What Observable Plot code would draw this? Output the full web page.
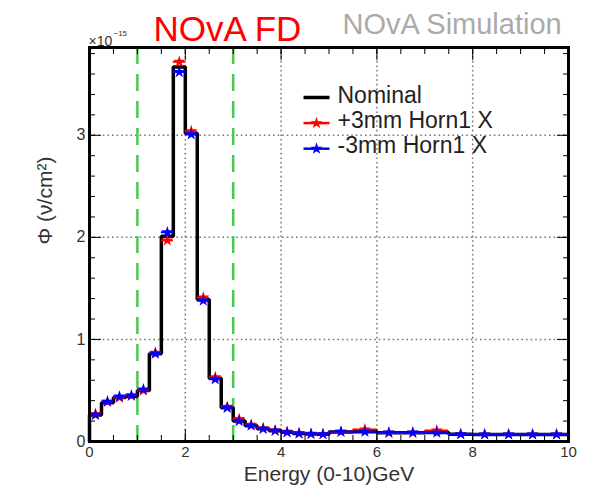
<!DOCTYPE html>
<html>
<head>
<meta charset="utf-8">
<script src="https://cdn.jsdelivr.net/npm/d3@7"></script>
<script src="https://cdn.jsdelivr.net/npm/@observablehq/plot@0.6"></script>
<style>
  html, body { margin: 0; padding: 0; background: #fff; }
  #chart { width: 593px; height: 486px; }
</style>
</head>
<body>
<div id="chart"></div>
<script>
// Energy bin edges (GeV): 0.25 GeV bins up to 5 GeV, 0.5 GeV bins above
const binEdges = [0, 0.25, 0.5, 0.75, 1, 1.25, 1.5, 1.75, 2, 2.25, 2.5, 2.75, 3,
  3.25, 3.5, 3.75, 4, 4.25, 4.5, 4.75, 5, 5.5, 6, 6.5, 7, 7.5, 8, 8.5, 9, 9.5, 10];

// Flux per bin, in units of 1e-15 ν/cm²
const nominal = [0.26, 0.38, 0.43, 0.44, 0.50, 0.86, 2.01, 3.67, 3.02, 1.39, 0.62, 0.33,
  0.20, 0.155, 0.125, 0.105, 0.09, 0.079, 0.074, 0.071,
  0.094, 0.095, 0.086, 0.085, 0.088, 0.072, 0.069, 0.069, 0.068, 0.068];
const plus3mm = [0.27, 0.39, 0.43, 0.45, 0.50, 0.87, 1.97, 3.72, 3.04, 1.41, 0.63, 0.34,
  0.22, 0.165, 0.13, 0.11, 0.095, 0.083, 0.076, 0.072,
  0.095, 0.118, 0.085, 0.085, 0.108, 0.073, 0.07, 0.07, 0.07, 0.07];
const minus3mm = [0.26, 0.39, 0.44, 0.45, 0.51, 0.86, 2.05, 3.62, 3.01, 1.38, 0.61, 0.33,
  0.20, 0.155, 0.125, 0.105, 0.09, 0.078, 0.075, 0.072,
  0.096, 0.095, 0.088, 0.088, 0.086, 0.072, 0.07, 0.07, 0.07, 0.07];

// Axis ticks, grid and selection cut lines
const xMajorTicks = [0, 2, 4, 6, 8, 10];
const xMinorTicks = [0, 0.5, 1, 1.5, 2, 2.5, 3, 3.5, 4, 4.5, 5, 5.5, 6, 6.5, 7, 7.5, 8, 8.5, 9, 9.5, 10];
const yMajorTicks = [0, 1, 2, 3];
const yMinorTicks = [0, 0.2, 0.4, 0.6, 0.8, 1, 1.2, 1.4, 1.6, 1.8, 2, 2.2, 2.4, 2.6, 2.8, 3, 3.2, 3.4, 3.6, 3.8];
const xGrid = [2, 4, 6, 8];
const yGrid = [1, 2, 3];
const cutLines = [1, 3];

const seriesNames = ["Nominal", "+3mm Horn1 X", "-3mm Horn1 X"];
const seriesColors = ["#000000", "#ff0000", "#0000ff"];

// Per-bin records
const bins = (values) => values.map((v, i) => ({lo: binEdges[i], hi: binEdges[i + 1], mid: (binEdges[i] + binEdges[i + 1]) / 2, v}));

// Step outline for the nominal histogram
const stepPoints = [{x: binEdges[0], y: 0}];
nominal.forEach((v, i) => { stepPoints.push({x: binEdges[i], y: v}, {x: binEdges[i + 1], y: v}); });

const font = "'Liberation Sans', Arial, Helvetica, sans-serif";
const intFormat = d3.format("d");

// A short horizontal stroke used as a legend key
const dashSymbol = {draw(ctx) { ctx.moveTo(-13, 0); ctx.lineTo(13, 0); }};

const variantMarks = (values, color) => [
  Plot.ruleY(bins(values), {x1: "lo", x2: "hi", y: "v", stroke: color, strokeWidth: 2}),
  Plot.dot(bins(values), {x: "mid", y: "v", symbol: "star", r: 3.8, fill: color, stroke: "none"})
];

const legendRow = (i) => [
  Plot.dot([seriesNames[i]], {frameAnchor: "top-left", dx: 227, dy: 50 + 25.6 * i, symbol: dashSymbol,
    stroke: seriesColors[i], strokeWidth: i === 0 ? 3.5 : 2.5, fill: "none"}),
  ...(i > 0 ? [Plot.dot([seriesNames[i]], {frameAnchor: "top-left", dx: 227, dy: 50 + 25.6 * i,
    symbol: "star", r: 3.8, fill: seriesColors[i], stroke: "none"})] : []),
  Plot.text([seriesNames[i]], {frameAnchor: "top-left", dx: 248, dy: 55 + 25 * i, text: d => d,
    textAnchor: "start", lineAnchor: "bottom", fontSize: 23, fill: "#222"})
];

const chart = Plot.plot({
  width: 593,
  height: 486,
  marginLeft: 89,
  marginRight: 25,
  marginTop: 47,
  marginBottom: 45,
  style: {fontFamily: font, background: "#fff", color: "#000"},
  x: {domain: [0, 10]},
  y: {domain: [0, 3.86]},
  marks: [
    // dotted grid
    Plot.ruleX(xGrid, {stroke: "#777", strokeWidth: 1.5, strokeDasharray: "1.6,3"}),
    Plot.ruleY(yGrid, {stroke: "#777", strokeWidth: 1.5, strokeDasharray: "1.6,3"}),
    // energy window
    Plot.ruleX(cutLines, {stroke: "#4cc94c", strokeWidth: 2.5, strokeDasharray: "17,10"}),
    // nominal histogram
    Plot.line(stepPoints, {x: "x", y: "y", stroke: "#000", strokeWidth: 3.5, strokeLinejoin: "miter"}),
    // shifted horn position histograms
    ...variantMarks(plus3mm, "#ff0000"),
    ...variantMarks(minus3mm, "#0000ff"),
    // axes: inward ticks on all four sides
    Plot.axisX({ticks: xMinorTicks, tickSize: -6, tickFormat: () => "", label: null}),
    Plot.axisX({ticks: xMajorTicks, tickSize: -12, tickFormat: () => "", label: null}),
    Plot.axisX({ticks: xMajorTicks, tickSize: 0, tickPadding: 5, tickFormat: intFormat, fontSize: 15, fill: "#333", label: null}),
    Plot.axisX({anchor: "top", ticks: xMinorTicks, tickSize: -6, tickFormat: () => "", label: null}),
    Plot.axisX({anchor: "top", ticks: xMajorTicks, tickSize: -12, tickFormat: () => "", label: null}),
    Plot.axisY({ticks: yMinorTicks, tickSize: -6, tickFormat: () => "", label: null}),
    Plot.axisY({ticks: yMajorTicks, tickSize: -12, tickFormat: () => "", label: null}),
    Plot.axisY({ticks: yMajorTicks, tickSize: 0, tickPadding: 4, tickFormat: intFormat, fontSize: 16, fill: "#333", label: null}),
    Plot.axisY({anchor: "right", ticks: yMinorTicks, tickSize: -6, tickFormat: () => "", label: null}),
    Plot.axisY({anchor: "right", ticks: yMajorTicks, tickSize: -12, tickFormat: () => "", label: null}),
    Plot.frame({stroke: "#000", strokeWidth: 3}),
    // axis titles
    Plot.text(["Energy (0-10)GeV"], {frameAnchor: "bottom", dy: 39, text: d => d, lineAnchor: "bottom",
      fontSize: 21, fill: "#333", letterSpacing: "1.6px"}),
    Plot.text(["Φ (ν/cm²)"], {frameAnchor: "left", dx: -44, text: d => d, rotate: -90,
      fontSize: 21, fill: "#333"}),
    // exponent of the y axis
    Plot.text(["×10"], {frameAnchor: "top-left", dx: -1, dy: -2, text: d => d, textAnchor: "start",
      lineAnchor: "bottom", fontSize: 14, fill: "#333"}),
    Plot.text(["−15"], {frameAnchor: "top-left", dx: 24, dy: -12, text: d => d, textAnchor: "start",
      lineAnchor: "bottom", fontSize: 8, fill: "#333"}),
    // titles
    Plot.text(["NOvA FD"], {frameAnchor: "top-left", dx: 64, dy: -7, text: d => d, textAnchor: "start",
      lineAnchor: "bottom", fontSize: 35, fill: "#ff0000"}),
    Plot.text(["NOvA Simulation"], {frameAnchor: "top-left", dx: 253, dy: -14, text: d => d, textAnchor: "start",
      lineAnchor: "bottom", fontSize: 29, fill: "#aaa"}),
    // legend
    ...legendRow(0),
    ...legendRow(1),
    ...legendRow(2)
  ]
});

document.getElementById("chart").appendChild(chart);
</script>
</body>
</html>
